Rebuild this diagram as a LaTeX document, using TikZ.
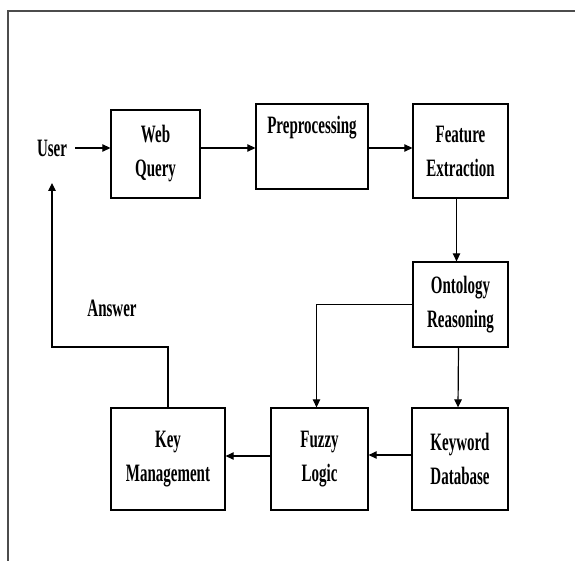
\documentclass[tikz,border=0pt]{standalone}
\usepackage{fontspec}
\setmainfont{Liberation Serif}[FakeStretch=0.6]
\usetikzlibrary{arrows.meta,calc}
\begin{document}
\begin{tikzpicture}[x=1pt,y=-1pt,
  box/.style={draw,line width=1.3pt,inner sep=0pt,align=center,
    font=\fontsize{25}{34}\selectfont\bfseries},
  lbl/.style={inner sep=0pt,align=center,font=\fontsize{25}{34}\selectfont\bfseries},
  arr/.style={line width=1.2pt,-{Triangle[length=8pt,width=7.5pt]}},
  conn/.style={line width=1.2pt}]
\useasboundingbox (0,0) rectangle (575,561);
\fill[white] (0,0) rectangle (575,561);
\draw[gray!60!black,line width=1.5pt] (575,11) -- (8,11) -- (8,561);

\node[box,minimum width=89pt,minimum height=88pt] (wq) at (155.5,154) {Web\\Query};
\node[box,minimum width=112pt,minimum height=85pt] (pre) at (312,146.5) {};
\node[lbl] (pretext) at (312,128) {Preprocessing};
\node[box,minimum width=95pt,minimum height=94pt] (fe) at (460.5,151) {Feature\\Extraction};
\node[box,minimum width=95pt,minimum height=85pt] (onto) at (460.5,304.5) {Ontology\\Reasoning};
\node[box,minimum width=96pt,minimum height=102pt] (kd) at (460,459) {Keyword\\Database};
\node[box,minimum width=97pt,minimum height=102pt] (fl) at (319.5,459) {Fuzzy\\Logic};
\node[box,minimum width=114pt,minimum height=102pt] (km) at (168,459) {Key\\Management};

\node[lbl] (user) at (52,148) {User};
\node[lbl] (ans) at (112,308) {Answer};

\coordinate (ret) at (52,347);
\coordinate (utip) at (52,183);

\draw[arr] (user.east) ++(8,0) -- (wq.west |- user);
\draw[arr] (wq.east |- user) -- (pre.west |- user);
\draw[arr] (pre.east |- user) -- (fe.west |- user);
\draw[arr] ([xshift=-4pt]fe.south) -- ([xshift=-4pt]onto.north);
\draw[arr] ([xshift=-2pt]onto.south) -- ([xshift=-2pt]kd.north);
\draw[arr] (onto.west) -| ([xshift=-3pt]fl.north);
\draw[arr] ([yshift=4pt]kd.west) -- ([yshift=4pt]fl.east);
\draw[arr] ([yshift=3pt]fl.west) -- ([yshift=3pt]km.west -| km.east);
\draw[arr] (km.north) |- (ret) -- (utip);
\end{tikzpicture}
\end{document}
